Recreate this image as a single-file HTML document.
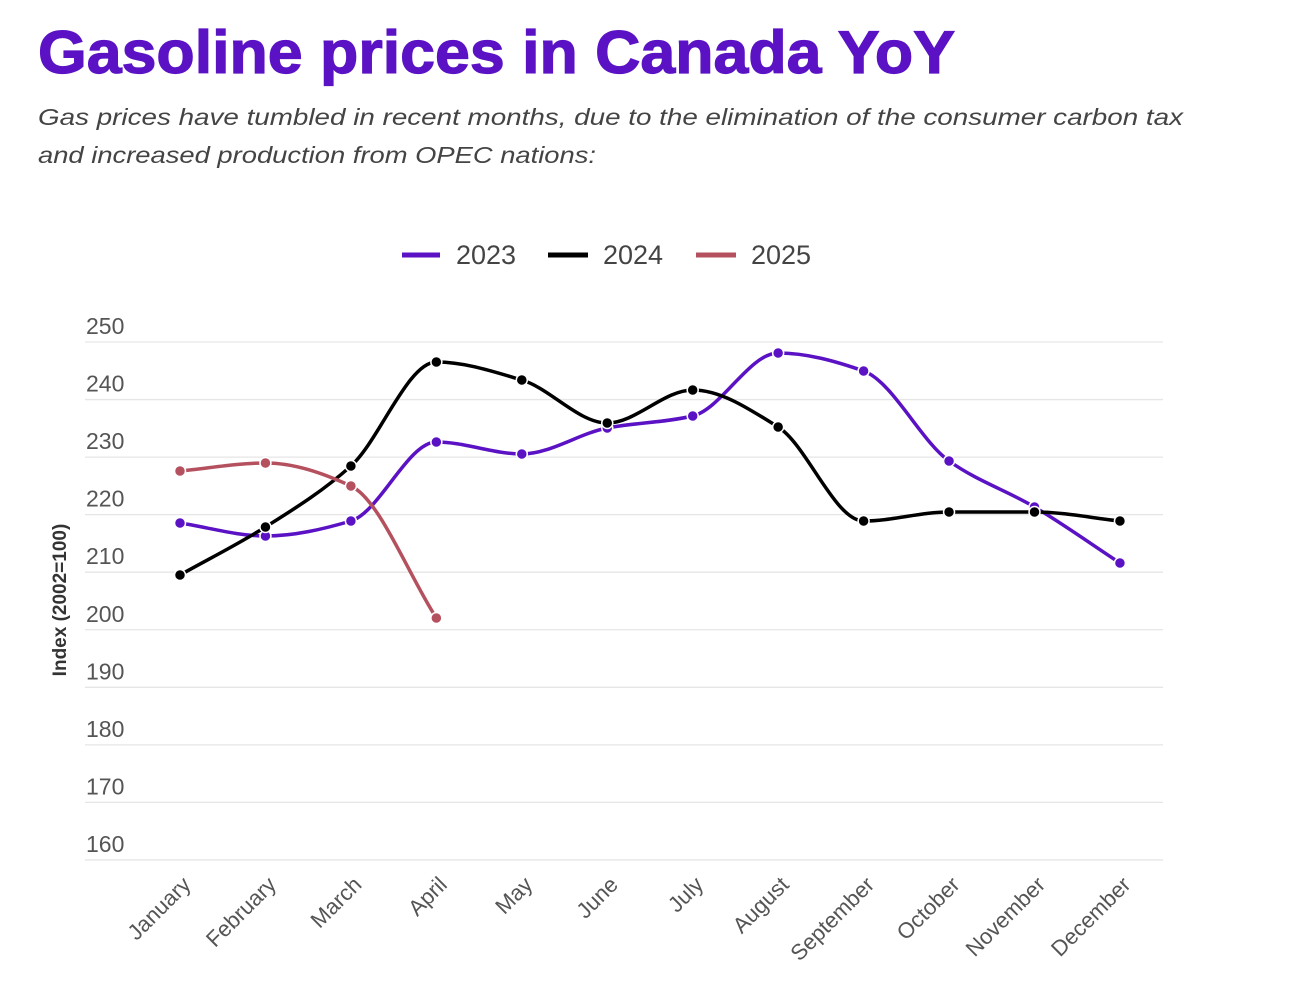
<!DOCTYPE html>
<html><head><meta charset="utf-8"><style>
html,body{margin:0;padding:0;background:#fff;width:1306px;height:1006px;overflow:hidden}
</style></head><body>
<svg width="1306" height="1006" xmlns="http://www.w3.org/2000/svg" font-family="'Liberation Sans', sans-serif">
<text x="38" y="73" font-size="60" font-weight="bold" fill="#5a12c4" textLength="917" lengthAdjust="spacingAndGlyphs" stroke="#5a12c4" stroke-width="1.2">Gasoline prices in Canada YoY</text>
<text x="38" y="125" font-size="23" font-style="italic" fill="#444" textLength="1145" lengthAdjust="spacingAndGlyphs">Gas prices have tumbled in recent months, due to the elimination of the consumer carbon tax</text>
<text x="38" y="163" font-size="23" font-style="italic" fill="#444" textLength="558" lengthAdjust="spacingAndGlyphs">and increased production from OPEC nations:</text>
<g font-size="27" fill="#444">
<line x1="402" y1="255" x2="440" y2="255" stroke="#5a12c4" stroke-width="5"/><text x="456" y="264">2023</text>
<line x1="548" y1="255" x2="588" y2="255" stroke="#000" stroke-width="5"/><text x="603" y="264">2024</text>
<line x1="696" y1="255" x2="736" y2="255" stroke="#b5515f" stroke-width="5"/><text x="751" y="264">2025</text>
</g>
<g id="grid" stroke="#e6e6e6" stroke-width="1.3"></g>
<g id="ylab" font-size="23" fill="#555"></g>
<text transform="translate(66,600) rotate(-90)" text-anchor="middle" font-size="19" font-weight="bold" fill="#333">Index (2002=100)</text>
<g id="xlab" font-size="22" fill="#555"></g>
<g id="series"></g>
</svg>
<script>
var NS="http://www.w3.org/2000/svg";
function el(t,a,p,txt){var e=document.createElementNS(NS,t);for(var k in a)e.setAttribute(k,a[k]);if(txt)e.textContent=txt;document.getElementById(p).appendChild(e);return e;}
function Y(v){return 342+(250-v)*5.755;}
for(var v=250;v>=160;v-=10){var y=Y(v);el('line',{x1:85,x2:1163,y1:y,y2:y},'grid');el('text',{x:86,y:y-8},'ylab',v);}
var m=["January","February","March","April","May","June","July","August","September","October","November","December"];
function X(i){return 180+i*85.45;}
m.forEach(function(n,i){var x=X(i)+12,y=886;el('text',{x:x,y:y,'text-anchor':'end',transform:'rotate(-45 '+x+' '+y+')'},'xlab',n);});
var S=[["#5a12c4",[523,536,521,442,454,428,416,353,371,461,507,563]],
["#000",[575,527,466,362,380,423,390,427,521,512,512,521]],
["#b5515f",[471,463,486,618]]];
S.forEach(function(s){var ys=s[1],n=ys.length,h=85.45;
var dk=[],t=[];for(var i=0;i<n-1;i++)dk.push((ys[i+1]-ys[i])/h);
for(var i=0;i<n;i++){if(i==0)t.push(dk[0]);else if(i==n-1)t.push(dk[n-2]);
else{var a=dk[i-1],b=dk[i];t.push(a*b<=0?0:(2*a*b)/(a+b));}}
var d="M"+X(0)+","+ys[0];
for(var i=0;i<n-1;i++){d+=" C"+(X(i)+h/3)+","+(ys[i]+t[i]*h/3)+" "+(X(i+1)-h/3)+","+(ys[i+1]-t[i+1]*h/3)+" "+X(i+1)+","+ys[i+1];}
el('path',{d:d,fill:'none',stroke:s[0],'stroke-width':3.5,'stroke-linejoin':'round'},'series');
ys.forEach(function(y,i){el('circle',{cx:X(i),cy:y,r:5.5,fill:s[0],stroke:'#fff','stroke-width':1.5},'series');});});
</script>
</body></html>
